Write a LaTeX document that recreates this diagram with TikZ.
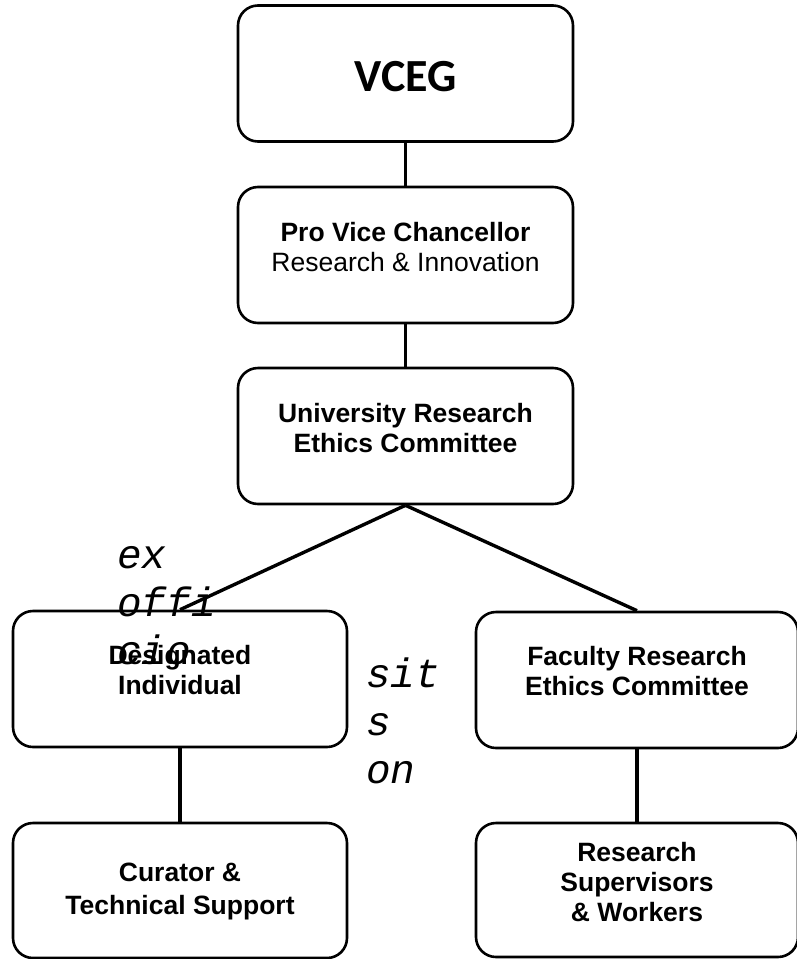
\documentclass[tikz,border=0pt]{standalone}
\usepackage{fontspec}
\setmainfont{Liberation Sans}
\newfontfamily\vcegfont{Carlito}
\newfontfamily\notefont{Liberation Mono}
\usetikzlibrary{positioning}
% lift the lines of a box a little, keeping the box size
\newcommand{\lifted}[2][5pt]{\raisebox{#1}[\height][\depth]{\begin{tabular}{@{}c@{}}#2\end{tabular}}}

\begin{document}
\begin{tikzpicture}[x=1pt, y=-1pt,
  orgbox/.style={draw, line width=2.6pt, rounded corners=20pt, minimum width=335pt, minimum height=136pt, inner sep=0pt, font=\bfseries\fontsize{26.5}{30}\selectfont},
  link/.style={line width=3.4pt},
  note/.style={anchor=base west, inner sep=0pt, align=left, font=\notefont\itshape\fontsize{41}{48}\selectfont}]
  \useasboundingbox (0,0) rectangle (797,959);

  % Notes (base is the last line)
  \node[note] (exofficio) at (117, 664) {ex\\offi\\cio};
  \node[note] (sitson) at (366, 783) {sit\\s\\on};

  % Top of the chain
  \node[orgbox, font=\vcegfont\bfseries\fontsize{46}{50}\selectfont] (vceg) at (405.5, 73.5) {\lifted[-8pt]{VCEG}};
  \node[orgbox, font=\fontsize{26.5}{30}\selectfont] (pvc) at (405.5, 255) {\lifted[4.5pt]{\textbf{Pro Vice Chancellor}\\Research \& Innovation}};
  \node[orgbox] (urec) at (405.5, 436) {\lifted{University Research\\Ethics Committee}};

  % Two branches
  \node[orgbox, minimum width=334pt] (dsg) at (180, 679) {\lifted[6pt]{Designated\\Individual}};
  \node[orgbox, minimum width=322pt] (frec) at (637, 680) {\lifted[6pt]{Faculty Research\\Ethics Committee}};
  \node[orgbox, minimum width=334pt, minimum height=135pt] (cur) at (180, 890.5) {\lifted[-1pt]{Curator \&\\[3pt]Technical Support}};
  \node[orgbox, minimum width=322pt, minimum height=134pt] (rsw) at (637, 890) {\lifted{Research\\Supervisors\\\& Workers}};

  % Links
  \draw[link] (vceg) -- (pvc);
  \draw[link] (pvc) -- (urec);
  \draw[link] (urec.south) -- (dsg.north);
  \draw[link] (urec.south) -- (frec.north);
  \draw[link] (dsg) -- (cur);
  \draw[link] (frec) -- (rsw);
\end{tikzpicture}
\end{document}
